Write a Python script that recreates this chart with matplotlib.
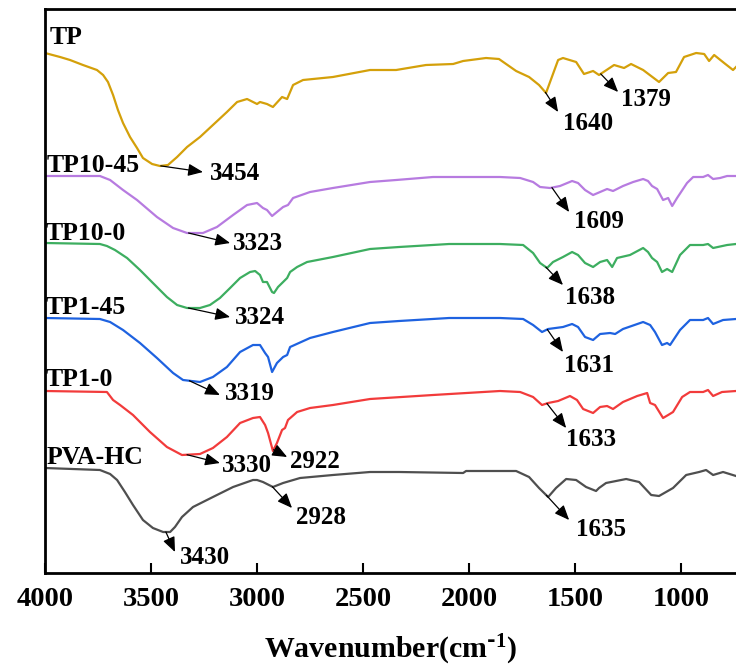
"""
FTIR spectra of PVA-HC and TP films, stacked with offsets.
"""
import matplotlib
matplotlib.use("Agg")
import matplotlib.pyplot as plt
import numpy as np

plt.rcParams["font.family"] = "serif"
plt.rcParams["font.serif"] = ["Liberation Serif", "DejaVu Serif"]
plt.rcParams["font.weight"] = "bold"
plt.rcParams["mathtext.default"] = "regular"

# wavenumber (cm-1) and offset transmittance (a.u.)
tp_wn = [4000, 3929, 3882, 3821, 3755, 3726, 3703, 3679, 3656, 3632, 3599, 3566, 3538, 3495, 3458,
         3420, 3377, 3330, 3269, 3208, 3142, 3094, 3047,
         3000, 2986, 2953, 2925, 2882, 2858, 2830, 2783, 2642, 2467, 2344, 2203, 2075, 2028, 1920,
         1859, 1778, 1717, 1670, 1637, 1580, 1557, 1495, 1458, 1415, 1387, 1316, 1269, 1236, 1179,
         1104, 1061, 1024, 986, 929, 891, 868, 844, 797, 755, 741]
tp_y = [520, 516, 513, 508, 503, 498, 491, 478, 463, 450, 436, 425, 415, 409, 407,
        408, 416, 426, 436, 448, 461, 471, 474,
        469, 471, 469, 466, 476, 474, 488, 493, 496, 503, 503, 508, 509, 512, 515,
        514, 502, 496, 488, 480, 513, 515, 511, 499, 502, 498, 508, 505, 509, 503,
        491, 500, 501, 516, 520, 519, 512, 518, 510, 503, 506]

tp1045_wn = [4000, 3741, 3693, 3632, 3566, 3472, 3396, 3330, 3255, 3189, 3113, 3047, 3000,
             2972, 2953, 2929, 2906, 2877, 2854, 2830, 2750, 2642, 2467, 2344, 2170, 1854, 1759,
             1698, 1665, 1618, 1571, 1514, 1486, 1453, 1415, 1382, 1349, 1321, 1274, 1226, 1179,
             1156, 1137, 1113, 1085, 1061, 1042, 1019, 972, 943, 896, 873, 849, 816, 783, 741]
tp1045_y = [397, 397, 393, 383, 373, 356, 345, 340, 340, 346, 358, 368, 370,
            365, 363, 357, 361, 366, 368, 375, 381, 385, 391, 393, 396, 396, 395,
            391, 386, 385, 387, 392, 390, 383, 378, 381, 384, 382, 387, 391, 394,
            392, 387, 384, 373, 375, 367, 375, 390, 396, 396, 398, 394, 395, 397, 397]

tp100_wn = [4000, 3741, 3708, 3670, 3613, 3552, 3491, 3425, 3377, 3330, 3269, 3222, 3175, 3127,
            3080, 3033, 3009, 2986, 2972, 2953, 2929, 2920, 2901, 2877, 2858, 2844, 2811, 2764,
            2642, 2467, 2330, 2094, 1854, 1745,
            1698, 1665, 1632, 1604, 1557, 1514, 1486, 1453, 1415, 1382, 1349, 1325, 1302, 1241,
            1179, 1156, 1137, 1113, 1090, 1066, 1042, 1005, 958, 896, 873, 849, 783, 741]
tp100_y = [330, 329, 327, 323, 315, 303, 290, 276, 268, 265, 265, 268, 275, 285,
           295, 301, 302, 298, 291, 291, 281, 280, 286, 291, 295, 301, 306, 311,
           316, 324, 326, 329, 329, 328,
           320, 310, 305, 311, 316, 321, 318, 310, 306, 311, 313, 306, 315, 318,
           325, 321, 315, 311, 301, 304, 301, 318, 328, 328, 329, 325, 328, 329]

tp145_wn = [4000, 3741, 3693, 3632, 3552, 3472, 3396, 3349, 3269, 3208, 3142, 3080, 3019, 2986,
            2962, 2948, 2929, 2906, 2877, 2858, 2844, 2750, 2642, 2467, 2330, 2094, 1854, 1745,
            1698, 1656, 1627, 1557, 1514, 1486, 1453, 1415, 1382, 1335, 1311, 1274, 1179, 1146,
            1123, 1090, 1066, 1052, 1005, 958, 896, 873, 849, 802, 741]
tp145_y = [255, 254, 251, 243, 230, 215, 200, 193, 191, 196, 206, 221, 228, 228,
           220, 216, 201, 210, 216, 218, 226, 235, 241, 250, 252, 255, 255, 254,
           248, 241, 244, 246, 249, 246, 236, 233, 239, 240, 239, 244, 251, 248,
           241, 228, 230, 228, 243, 253, 253, 255, 249, 253, 254]

tp10_wn = [4000, 3708, 3679, 3646, 3585, 3505, 3425, 3354, 3269, 3208, 3142, 3080, 3019, 2986,
           2962, 2948, 2925, 2906, 2882, 2868, 2854, 2811, 2750, 2642, 2467, 2170, 1854, 1759,
           1698, 1656, 1627, 1580, 1524, 1491, 1462, 1415, 1382, 1349, 1321, 1274, 1207, 1160,
           1146, 1123, 1085, 1061, 1038, 995, 958, 896, 873, 849, 807, 741]
tp10_y = [182, 181, 173, 168, 158, 141, 126, 118, 119, 125, 136, 150, 155, 156,
          148, 140, 122, 130, 143, 145, 153, 161, 165, 168, 174, 178, 182, 181,
          176, 168, 170, 172, 177, 173, 164, 160, 166, 167, 164, 171, 177, 180,
          170, 168, 155, 158, 161, 176, 181, 181, 183, 177, 181, 182]

pva_wn = [4000, 3741, 3693, 3660, 3623, 3585, 3538, 3491, 3443, 3410, 3387, 3354, 3302, 3208,
          3113, 3019, 3000, 2972, 2925, 2877, 2797, 2642, 2467, 2330, 2028, 2014, 1778, 1717,
          1670, 1627, 1590, 1542, 1495, 1448, 1401, 1387, 1354, 1259, 1198, 1141, 1104, 1038,
          976, 915, 882, 849, 802, 741]
pva_y = [105, 103, 99, 93, 81, 68, 53, 45, 41, 41, 46, 56, 66, 76,
         86, 93, 93, 91, 86, 90, 95, 98, 101, 101, 100, 102, 102, 96,
         85, 76, 85, 94, 93, 86, 82, 85, 90, 94, 91, 78, 77, 85,
         98, 101, 103, 98, 101, 97]

names = ["TP", "TP10-45", "TP10-0", "TP1-45", "TP1-0", "PVA-HC"]
colors = ["#D4A00A", "#B77BE0", "#3DAE60", "#1E62E0", "#F23B3B", "#4F4F4F"]
curves = [(tp_wn, tp_y), (tp1045_wn, tp1045_y), (tp100_wn, tp100_y),
          (tp145_wn, tp145_y), (tp10_wn, tp10_y), (pva_wn, pva_y)]
# sample label position (left wavenumber, y)
name_pos = [(3976, 535), (3991, 407), (3995, 340), (3995, 265), (3995, 193), (3991, 115)]

# peak annotations: curve index, peak, arrow head (wn, y), text left (wn, y)
peaks = [
    (0, 3454, (3255, 401), (3222, 400)),
    (0, 1640, (1580, 461), (1557, 450)),
    (0, 1379, (1297, 481), (1283, 474)),
    (1, 3323, (3127, 330), (3113, 330)),
    (1, 1609, (1528, 361), (1505, 352)),
    (2, 3324, (3127, 256), (3104, 256)),
    (2, 1638, (1557, 288), (1547, 276)),
    (3, 3319, (3175, 178), (3151, 179)),
    (3, 1631, (1557, 221), (1552, 208)),
    (4, 3330, (3175, 110), (3165, 108)),
    (4, 2922, (2858, 116), (2844, 111)),
    (4, 1633, (1542, 145), (1542, 133)),
    (5, 3430, (3387, 21), (3363, 16)),
    (5, 2928, (2835, 65), (2816, 56)),
    (5, 1635, (1528, 53), (1495, 43)),
]

fig = plt.figure(figsize=(7.36, 6.69), dpi=100)
ax = fig.add_axes([45 / 736, 96 / 669, 691 / 736, 564 / 669])

for (wn, y), c in zip(curves, colors):
    ax.plot(wn, y, color=c, lw=1.6, solid_joinstyle="round")

for name, (x, y) in zip(names, name_pos):
    ax.text(x, y, name, fontsize=18.5, fontweight="bold", ha="left", va="center")

for idx, pk, head, tpos in peaks:
    wn, y = curves[idx]
    y0 = np.interp(pk, wn[::-1], y[::-1])
    ax.annotate("", xy=head, xytext=(pk, y0),
                arrowprops=dict(arrowstyle="-|>,head_length=0.6,head_width=0.25",
                                color="black", lw=0.9, mutation_scale=15,
                                shrinkA=0, shrinkB=0))
    ax.text(tpos[0], tpos[1], str(pk), fontsize=18, fontweight="bold", ha="left", va="center")

ax.set_xlim(4000, 741)
ax.set_ylim(0, 564)
ax.set_xticks([4000, 3500, 3000, 2500, 2000, 1500, 1000])
ax.set_yticks([])
ax.tick_params(axis="x", direction="in", length=7, width=1.5, pad=10, labelsize=20.5)
for lab in ax.get_xticklabels():
    lab.set_fontweight("bold")
for side in ["left", "bottom", "top"]:
    ax.spines[side].set_linewidth(2)
ax.spines["right"].set_visible(False)
ax.set_xlabel(r"Wavenumber(cm$^{\text{-}1}$)", fontsize=21.5, fontweight="bold", labelpad=15)

fig.savefig("out.png", dpi=100)
